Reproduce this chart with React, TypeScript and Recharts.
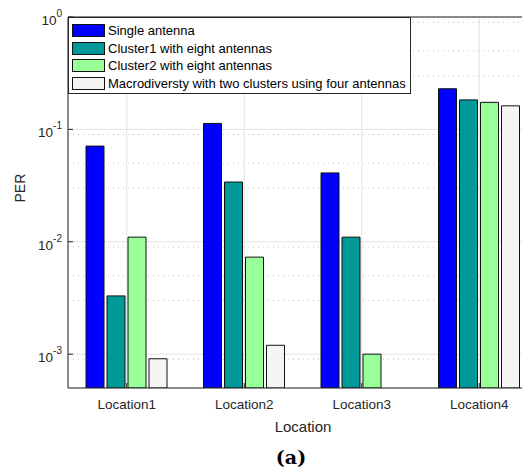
import React from 'react';
import {
  BarChart,
  Bar,
  XAxis,
  YAxis,
  CartesianGrid,
  ReferenceLine,
} from 'recharts';

// PER per location, log scale
const locations = ['Location1', 'Location2', 'Location3', 'Location4'];
const singleAntenna = [0.071, 0.113, 0.041, 0.23];
const cluster1 = [0.0033, 0.034, 0.011, 0.183];
const cluster2 = [0.011, 0.0073, 0.001, 0.174];
const macrodiversity = [0.00091, 0.0012, null, 0.162];

const majorTicks = [0.001, 0.01, 0.1, 1];
const minorTicks = [
  0.0005, 0.0006, 0.0007, 0.0008, 0.0009,
  0.002, 0.003, 0.004, 0.005, 0.006, 0.007, 0.008, 0.009,
  0.02, 0.03, 0.04, 0.05, 0.06, 0.07, 0.08, 0.09,
  0.2, 0.3, 0.4, 0.5, 0.6, 0.7, 0.8, 0.9,
];

const series = [
  { key: 'single', name: 'Single antenna', fill: '#0000ff' },
  { key: 'c1', name: 'Cluster1 with eight antennas', fill: '#009999' },
  { key: 'c2', name: 'Cluster2 with eight antennas', fill: '#99ff99' },
  { key: 'macro', name: 'Macrodiversty with two clusters using four antennas', fill: '#f5f5f5' },
];

const data = locations.map((loc, i) => ({
  location: loc,
  single: singleAntenna[i],
  c1: cluster1[i],
  c2: cluster2[i],
  macro: macrodiversity[i],
}));

const FONT = '"Liberation Sans", Arial, sans-serif';
const AXIS = '#262626';

const YTick = (props: any) => {
  const { x, y, payload } = props;
  const exp = Math.round(Math.log10(payload.value));
  return (
    <g>
      <line x1={x} x2={x + 5} y1={y} y2={y} stroke={AXIS} />
      <text x={x - 6} y={y + 8} textAnchor="end" fill={AXIS} fontFamily={FONT} fontSize={13.5}>
        10
        <tspan dy={-8} fontSize={10}>{exp}</tspan>
      </text>
    </g>
  );
};

const XTick = (props: any) => {
  const { x, y, payload } = props;
  return (
    <g>
      <line x1={x} x2={x} y1={y} y2={y - 5} stroke={AXIS} />
      <text x={x} y={y + 21} textAnchor="middle" fill={AXIS} fontFamily={FONT} fontSize={13.5}>
        {payload.value}
      </text>
    </g>
  );
};

export default function App() {
  return (
    <div style={{ position: 'relative', width: 530, height: 475, overflow: 'hidden', margin: -8, background: '#fff' }}>
      <BarChart
        width={540}
        height={475}
        data={data}
        margin={{ top: 17, right: 2, bottom: 0, left: 0 }}
        barCategoryGap={18}
        barGap={3}
      >
        <CartesianGrid yAxisId="minor" vertical={false} stroke="#c4c4c4" strokeDasharray="1 4" />
        <CartesianGrid stroke="#e3e3e3" strokeWidth={1} />
        <ReferenceLine y={1} stroke={AXIS} />
        <XAxis
          dataKey="location"
          height={87}
          stroke={AXIS}
          tickLine={false}
          tickSize={0}
          tickMargin={0}
          tick={<XTick />}
          label={{ value: 'Location', position: 'insideBottom', offset: 43, fill: AXIS, fontFamily: FONT, fontSize: 15 }}
        />
        <YAxis
          scale="log"
          domain={[0.0005, 1]}
          allowDataOverflow
          ticks={majorTicks}
          width={68}
          stroke={AXIS}
          tickLine={false}
          tickSize={0}
          tickMargin={0}
          tick={<YTick />}
          label={{ value: 'PER', angle: -90, position: 'insideLeft', offset: 20, fill: AXIS, fontFamily: FONT, fontSize: 14 }}
        />
        <YAxis
          yAxisId="minor"
          hide
          scale="log"
          domain={[0.0005, 1]}
          allowDataOverflow
          ticks={minorTicks}
        />
        {series.map((s) => (
          <Bar
            key={s.key}
            dataKey={s.key}
            name={s.name}
            fill={s.fill}
            stroke="#111"
            strokeWidth={1}
            isAnimationActive={false}
          />
        ))}
      </BarChart>
      <div
        style={{
          position: 'absolute',
          left: 68,
          top: 17,
          width: 343,
          height: 77,
          boxSizing: 'border-box',
          border: `1px solid ${AXIS}`,
          background: '#fff',
          padding: '4px 3px',
        }}
      >
        {series.map((s) => (
          <div key={s.key} style={{ display: 'flex', alignItems: 'center', height: 17.5 }}>
            <div style={{ width: 33, height: 13, boxSizing: 'border-box', border: '1px solid #111', background: s.fill }} />
            <span style={{ marginLeft: 3, fontFamily: FONT, fontSize: 13, color: '#000', whiteSpace: 'nowrap' }}>
              {s.name}
            </span>
          </div>
        ))}
      </div>
      <div
        style={{
          position: 'absolute',
          left: 0,
          width: 582,
          top: 446,
          textAlign: 'center',
          fontFamily: '"DejaVu Serif", serif',
          fontWeight: 'bold',
          fontSize: 19,
          color: '#000',
        }}
      >
        (a)
      </div>
    </div>
  );
}
